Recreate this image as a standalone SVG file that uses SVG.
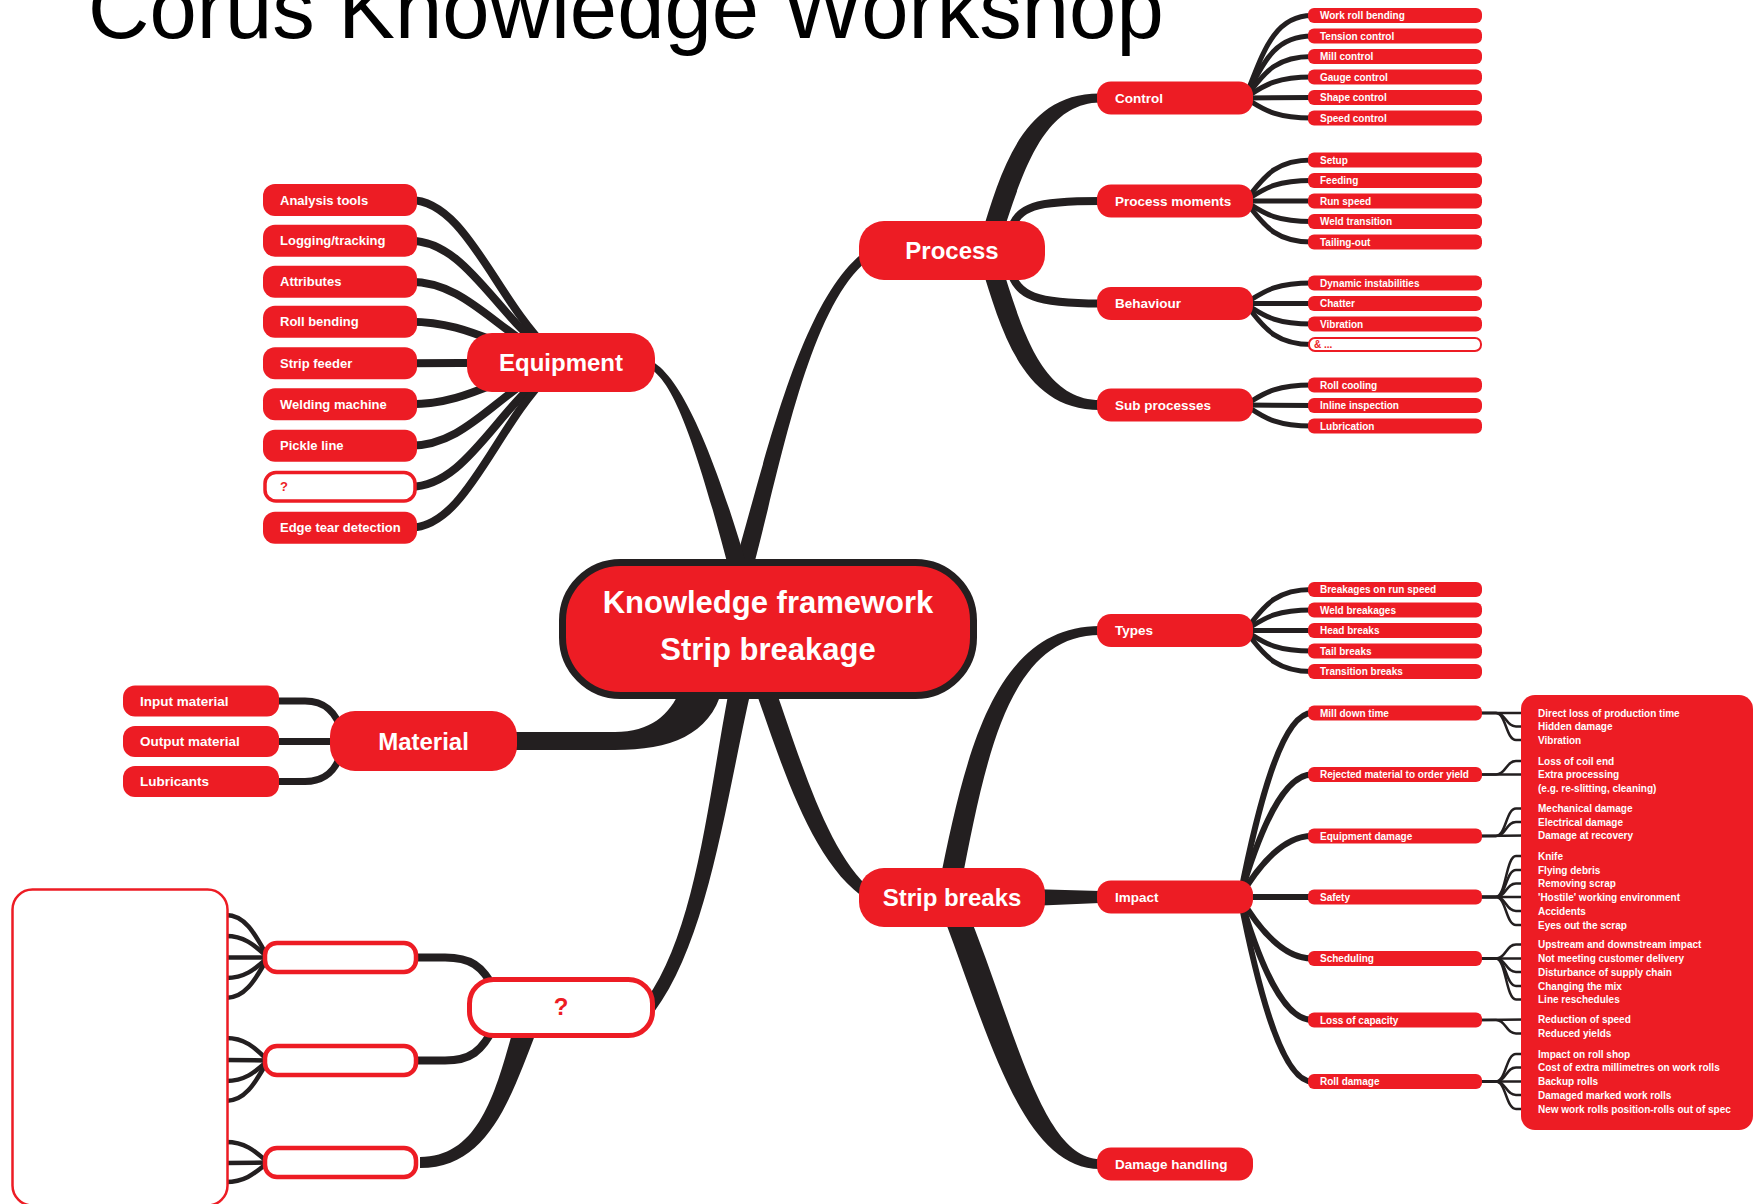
<svg xmlns="http://www.w3.org/2000/svg" width="1753" height="1204" viewBox="0 0 1753 1204">
<style>
  .tp { fill:#231f20; }
  .lk { fill:none; stroke:#231f20; }
  .w5 { stroke-width:5; }
  .w6 { stroke-width:6; }
  .w8 { stroke-width:8; }
  .w45 { stroke-width:4.5; }
  .w25 { stroke-width:2.5; }
  .rn { fill:#ed1c24; }
  .wn { fill:#ffffff; stroke:#ed1c24; }
  text { font-family:"Liberation Sans", Arial, Helvetica, sans-serif; font-weight:bold; fill:#ffffff; }
  .title { font-weight:normal; fill:#000000; font-size:85px; }
  .c0 { font-size:31px; text-anchor:middle; }
  .c1 { font-size:24px; text-anchor:middle; }
  .c2 { font-size:13.5px; }
  .c3 { font-size:10px; }
  .cl { font-size:13px; }
  .cm { font-size:13.5px; }
  .red { fill:#ed1c24; }
</style>

<text class="title" x="88" y="38">Corus Knowledge Workshop</text>

<!-- connectors -->
<g id="connectors">
  <!-- main trunks from the centre -->
  <path class="tp" d="M 731 577 C 764 468, 801 287, 873 246 L 877 254 C 809 293, 780 472, 749 583 Z"/>
  <path class="tp" d="M 640 358 C 671 358, 707 428, 749 573 L 731 577 C 693 432, 669 366, 640 366 Z"/>
  <path class="tp" d="M 505 732 L 615 732 C 650 732, 670 715, 680 690 L 722 690 C 710 735, 670 750, 615 750 L 505 750 Z"/>
  <path class="tp" d="M 729 690 C 708 800, 696 930, 646 1000 L 654 1012 C 708 940, 726 800, 751 690 Z"/>
  <path class="tp" d="M 756 692 C 781 762, 812 866, 868 900 L 872 890 C 828 855, 800 758, 775 688 Z"/>

  <!-- Process branches -->
  <path class="tp" d="M 981 236 C 1001 172, 1022 93, 1100 93.5 L 1100 102.5 C 1038 103, 1019 188, 999 244 Z"/>
  <path class="tp" d="M 981 265 C 1001 329, 1022 410, 1100 410 L 1100 400 C 1038 400, 1019 318, 999 257 Z"/>
  <path class="lk" stroke-width="8" d="M 1010 232 C 1018 206, 1035 201, 1100 201"/>
  <path class="lk" stroke-width="8" d="M 1010 270 C 1018 296, 1035 303.5, 1100 303.5"/>

  <!-- Strip breaks branches -->
  <path class="tp" d="M 939 885 C 965 757, 993 626, 1100 626 L 1100 635 C 1007 635, 985 763, 961 885 Z"/>
  <path class="tp" d="M 1030 889 L 1100 891 L 1100 903 L 1030 906 Z"/>
  <path class="tp" d="M 937 900 C 985 1020, 1018 1169, 1100 1169 L 1100 1159 C 1040 1159, 1013 1018, 963 900 Z"/>

  <!-- Equipment leaves -->
  <g class="lk w8">
    <path d="M 410 200 C 465 200, 495 297, 548 349"/>
    <path d="M 410 240.7 C 465 240.7, 495 313.5, 548 352.3"/>
    <path d="M 410 281.7 C 465 281.7, 495 329.9, 548 355.6"/>
    <path d="M 410 321.7 C 465 321.7, 495 345.9, 548 358.8"/>
    <path d="M 410 363.3 L 548 362.5"/>
    <path d="M 410 404.3 C 465 404.3, 495 378.9, 548 365.4"/>
    <path d="M 410 445.7 C 465 445.7, 495 395.5, 548 368.7"/>
    <path d="M 410 486.7 C 465 486.7, 495 411.9, 548 372"/>
    <path d="M 410 527.7 C 465 527.7, 495 428.3, 548 375.3"/>
  </g>

  <!-- Material leaves -->
  <g class="lk" stroke-width="7">
    <path d="M 272 701 L 305 701 C 325 701, 336 712, 342 732"/>
    <path d="M 272 741.5 L 342 741.5"/>
    <path d="M 272 781.5 L 305 781.5 C 325 781.5, 336 771, 342 751"/>
  </g>

  <!-- Control leaves -->
  <g class="lk w5">
    <path d="M 1245 98 C 1262 56.75, 1272 15.5, 1312 15.5"/>
    <path d="M 1245 98 C 1262 67, 1272 36, 1312 36"/>
    <path d="M 1245 98 C 1262 77.25, 1272 56.5, 1312 56.5"/>
    <path d="M 1245 98 C 1262 87.5, 1272 77, 1312 77"/>
    <path d="M 1245 98 L 1312 97.5"/>
    <path d="M 1245 98 C 1262 108, 1272 118, 1312 118"/>
  </g>
  <!-- Process moments leaves -->
  <g class="lk w5">
    <path d="M 1245 201 C 1262 180.5, 1272 160, 1312 160"/>
    <path d="M 1245 201 C 1262 190.75, 1272 180.5, 1312 180.5"/>
    <path d="M 1245 201 L 1312 201"/>
    <path d="M 1245 201 C 1262 211.25, 1272 221.5, 1312 221.5"/>
    <path d="M 1245 201 C 1262 221.5, 1272 242, 1312 242"/>
  </g>
  <!-- Behaviour leaves -->
  <g class="lk w5">
    <path d="M 1245 303.5 C 1262 293.25, 1272 283, 1312 283"/>
    <path d="M 1245 303.5 L 1312 303.5"/>
    <path d="M 1245 303.5 C 1262 313.75, 1272 324, 1312 324"/>
    <path d="M 1245 303.5 C 1262 324, 1272 344.5, 1312 344.5"/>
  </g>
  <!-- Sub processes leaves -->
  <g class="lk w5">
    <path d="M 1245 405 C 1262 395, 1272 385, 1312 385"/>
    <path d="M 1245 405 L 1312 405.5"/>
    <path d="M 1245 405 C 1262 415.5, 1272 426, 1312 426"/>
  </g>
  <!-- Types leaves -->
  <g class="lk w5">
    <path d="M 1245 630.5 C 1262 610, 1272 589.5, 1312 589.5"/>
    <path d="M 1245 630.5 C 1262 620.25, 1272 610, 1312 610"/>
    <path d="M 1245 630.5 L 1312 630.5"/>
    <path d="M 1245 630.5 C 1262 640.75, 1272 651, 1312 651"/>
    <path d="M 1245 630.5 C 1262 651, 1272 671.5, 1312 671.5"/>
  </g>
  <!-- Impact leaves -->
  <g class="lk w6">
    <path d="M 1240 897 C 1258 805, 1282 713, 1312 713"/>
    <path d="M 1240 897 C 1258 835.75, 1282 774.5, 1312 774.5"/>
    <path d="M 1240 897 C 1258 866.5, 1282 836, 1312 836"/>
    <path d="M 1240 897 L 1312 897"/>
    <path d="M 1240 897 C 1258 927.75, 1282 958.5, 1312 958.5"/>
    <path d="M 1240 897 C 1258 958.5, 1282 1020, 1312 1020"/>
    <path d="M 1240 897 C 1258 989.25, 1282 1081.5, 1312 1081.5"/>
  </g>

  <!-- Impact details into the list panel -->
  <g class="lk w25">
    <path d="M 1480 713 L 1536 713"/>
    <path d="M 1480 713 L 1496 713 C 1506 713, 1506 726.5, 1516 726.5 L 1536 726.5"/>
    <path d="M 1480 713 L 1496 713 C 1506 713, 1506 740, 1516 740 L 1536 740"/>

    <path d="M 1480 774.5 L 1496 774.5 C 1506 774.5, 1506 761, 1516 761 L 1536 761"/>
    <path d="M 1480 774.5 L 1536 774.5"/>

    <path d="M 1480 836 L 1496 836 C 1506 836, 1506 808.5, 1516 808.5 L 1536 808.5"/>
    <path d="M 1480 836 L 1496 836 C 1506 836, 1506 822, 1516 822 L 1536 822"/>
    <path d="M 1480 836 L 1536 835.5"/>

    <path d="M 1480 897 L 1496 897 C 1506 897, 1506 856, 1516 856 L 1536 856"/>
    <path d="M 1480 897 L 1496 897 C 1506 897, 1506 870, 1516 870 L 1536 870"/>
    <path d="M 1480 897 L 1496 897 C 1506 897, 1506 883.5, 1516 883.5 L 1536 883.5"/>
    <path d="M 1480 897 L 1536 897"/>
    <path d="M 1480 897 L 1496 897 C 1506 897, 1506 911, 1516 911 L 1536 911"/>
    <path d="M 1480 897 L 1496 897 C 1506 897, 1506 925, 1516 925 L 1536 925"/>

    <path d="M 1480 958.5 L 1496 958.5 C 1506 958.5, 1506 944.5, 1516 944.5 L 1536 944.5"/>
    <path d="M 1480 958.5 L 1536 958.5"/>
    <path d="M 1480 958.5 L 1496 958.5 C 1506 958.5, 1506 972, 1516 972 L 1536 972"/>
    <path d="M 1480 958.5 L 1496 958.5 C 1506 958.5, 1506 986, 1516 986 L 1536 986"/>
    <path d="M 1480 958.5 L 1496 958.5 C 1506 958.5, 1506 999.5, 1516 999.5 L 1536 999.5"/>

    <path d="M 1480 1020 L 1536 1019.5"/>
    <path d="M 1480 1020 L 1496 1020 C 1506 1020, 1506 1033.5, 1516 1033.5 L 1536 1033.5"/>

    <path d="M 1480 1081.5 L 1496 1081.5 C 1506 1081.5, 1506 1054, 1516 1054 L 1536 1054"/>
    <path d="M 1480 1081.5 L 1496 1081.5 C 1506 1081.5, 1506 1067.5, 1516 1067.5 L 1536 1067.5"/>
    <path d="M 1480 1081.5 L 1536 1081.5"/>
    <path d="M 1480 1081.5 L 1496 1081.5 C 1506 1081.5, 1506 1095, 1516 1095 L 1536 1095"/>
    <path d="M 1480 1081.5 L 1496 1081.5 C 1506 1081.5, 1506 1109, 1516 1109 L 1536 1109"/>
  </g>

  <!-- open branch at lower left -->
  <path class="lk w8" d="M 415 957.5 L 445 957.5 C 470 957.5, 482 965, 495 990"/>
  <path class="lk w8" d="M 415 1060.5 L 445 1060.5 C 470 1060.5, 482 1052, 495 1025"/>
  <path class="tp" d="M 513 1030 C 495 1095, 478 1157, 420 1157 L 420 1168 C 488 1168, 510 1100, 537 1030 Z"/>
  <g class="lk w45">
    <path d="M 226 915 C 246 915, 256 936, 268 957.5"/>
    <path d="M 226 936 C 246 936, 256 947, 268 957.5"/>
    <path d="M 226 957.5 L 268 957.5"/>
    <path d="M 226 978 C 246 978, 256 968, 268 957.5"/>
    <path d="M 226 998 C 246 998, 256 978, 268 957.5"/>

    <path d="M 226 1038 C 246 1038, 256 1049, 268 1060.5"/>
    <path d="M 226 1060 L 268 1060.5"/>
    <path d="M 226 1081 C 246 1081, 256 1071, 268 1060.5"/>
    <path d="M 226 1101 C 246 1101, 256 1081, 268 1060.5"/>

    <path d="M 226 1142 C 246 1142, 256 1152, 268 1162.5"/>
    <path d="M 226 1163 L 268 1162.5"/>
    <path d="M 226 1182 C 246 1182, 256 1172, 268 1162.5"/>
  </g>
</g>

<!-- centre -->
<g id="centre">
  <rect x="562.5" y="562.5" width="411" height="133" rx="58" class="rn" stroke="#231f20" stroke-width="7"/>
  <text class="c0" x="768" y="613">Knowledge framework</text>
  <text class="c0" x="768" y="660">Strip breakage</text>
</g>

<!-- first level -->
<g id="process"><rect x="859" y="221" width="186" height="59" rx="25" class="rn"/><text class="c1" x="952" y="259">Process</text></g>
<g id="equipment"><rect x="467" y="333" width="188" height="59" rx="25" class="rn"/><text class="c1" x="561" y="371">Equipment</text></g>
<g id="material"><rect x="330" y="711" width="187" height="60" rx="25" class="rn"/><text class="c1" x="423.5" y="749.5">Material</text></g>
<g id="unknown"><rect x="469.5" y="979.5" width="183" height="56" rx="24" class="wn" stroke-width="5"/><text class="c1 red" x="561" y="1015">?</text></g>
<g id="strip-breaks"><rect x="859" y="868" width="186" height="59" rx="25" class="rn"/><text class="c1" x="952" y="906">Strip breaks</text></g>

<!-- second level -->
<g id="control"><rect x="1097" y="81.5" width="156" height="33" rx="14" class="rn"/><text class="c2" x="1115" y="102.7">Control</text></g>
<g id="process-moments"><rect x="1097" y="184.5" width="156" height="33" rx="14" class="rn"/><text class="c2" x="1115" y="205.7">Process moments</text></g>
<g id="behaviour"><rect x="1097" y="287" width="156" height="33" rx="14" class="rn"/><text class="c2" x="1115" y="308.2">Behaviour</text></g>
<g id="sub-processes"><rect x="1097" y="388.5" width="156" height="33" rx="14" class="rn"/><text class="c2" x="1115" y="409.7">Sub processes</text></g>
<g id="types"><rect x="1097" y="614" width="156" height="33" rx="14" class="rn"/><text class="c2" x="1115" y="635.2">Types</text></g>
<g id="impact"><rect x="1097" y="880.5" width="156" height="33" rx="14" class="rn"/><text class="c2" x="1115" y="901.7">Impact</text></g>
<g id="damage-handling"><rect x="1097" y="1147.5" width="156" height="33" rx="14" class="rn"/><text class="c2" x="1115" y="1168.7">Damage handling</text></g>

<!-- Control leaves -->
<g id="control-leaves">
  <rect x="1308" y="8" width="174" height="15" rx="6" class="rn"/><text class="c3" x="1320" y="19">Work roll bending</text>
  <rect x="1308" y="28.5" width="174" height="15" rx="6" class="rn"/><text class="c3" x="1320" y="39.5">Tension control</text>
  <rect x="1308" y="49" width="174" height="15" rx="6" class="rn"/><text class="c3" x="1320" y="60">Mill control</text>
  <rect x="1308" y="69.5" width="174" height="15" rx="6" class="rn"/><text class="c3" x="1320" y="80.5">Gauge control</text>
  <rect x="1308" y="90" width="174" height="15" rx="6" class="rn"/><text class="c3" x="1320" y="101">Shape control</text>
  <rect x="1308" y="110.5" width="174" height="15" rx="6" class="rn"/><text class="c3" x="1320" y="121.5">Speed control</text>
</g>
<g id="process-moment-leaves">
  <rect x="1308" y="152.5" width="174" height="15" rx="6" class="rn"/><text class="c3" x="1320" y="163.5">Setup</text>
  <rect x="1308" y="173" width="174" height="15" rx="6" class="rn"/><text class="c3" x="1320" y="184">Feeding</text>
  <rect x="1308" y="193.5" width="174" height="15" rx="6" class="rn"/><text class="c3" x="1320" y="204.5">Run speed</text>
  <rect x="1308" y="214" width="174" height="15" rx="6" class="rn"/><text class="c3" x="1320" y="225">Weld transition</text>
  <rect x="1308" y="234.5" width="174" height="15" rx="6" class="rn"/><text class="c3" x="1320" y="245.5">Tailing-out</text>
</g>
<g id="behaviour-leaves">
  <rect x="1308" y="275.5" width="174" height="15" rx="6" class="rn"/><text class="c3" x="1320" y="286.5">Dynamic instabilities</text>
  <rect x="1308" y="296" width="174" height="15" rx="6" class="rn"/><text class="c3" x="1320" y="307">Chatter</text>
  <rect x="1308" y="316.5" width="174" height="15" rx="6" class="rn"/><text class="c3" x="1320" y="327.5">Vibration</text>
  <rect x="1309" y="338" width="172" height="13" rx="6" class="wn" stroke-width="2"/><text class="c3 red" x="1314" y="348">&amp; ...</text>
</g>
<g id="sub-process-leaves">
  <rect x="1308" y="377.5" width="174" height="15" rx="6" class="rn"/><text class="c3" x="1320" y="388.5">Roll cooling</text>
  <rect x="1308" y="398" width="174" height="15" rx="6" class="rn"/><text class="c3" x="1320" y="409">Inline inspection</text>
  <rect x="1308" y="418.5" width="174" height="15" rx="6" class="rn"/><text class="c3" x="1320" y="429.5">Lubrication</text>
</g>
<g id="type-leaves">
  <rect x="1308" y="582" width="174" height="15" rx="6" class="rn"/><text class="c3" x="1320" y="593">Breakages on run speed</text>
  <rect x="1308" y="602.5" width="174" height="15" rx="6" class="rn"/><text class="c3" x="1320" y="613.5">Weld breakages</text>
  <rect x="1308" y="623" width="174" height="15" rx="6" class="rn"/><text class="c3" x="1320" y="634">Head breaks</text>
  <rect x="1308" y="643.5" width="174" height="15" rx="6" class="rn"/><text class="c3" x="1320" y="654.5">Tail breaks</text>
  <rect x="1308" y="664" width="174" height="15" rx="6" class="rn"/><text class="c3" x="1320" y="675">Transition breaks</text>
</g>
<g id="impact-leaves">
  <rect x="1308" y="705.5" width="174" height="15" rx="6" class="rn"/><text class="c3" x="1320" y="716.5">Mill down time</text>
  <rect x="1308" y="767" width="174" height="15" rx="6" class="rn"/><text class="c3" x="1320" y="778">Rejected material to order yield</text>
  <rect x="1308" y="828.5" width="174" height="15" rx="6" class="rn"/><text class="c3" x="1320" y="839.5">Equipment damage</text>
  <rect x="1308" y="889.5" width="174" height="15" rx="6" class="rn"/><text class="c3" x="1320" y="900.5">Safety</text>
  <rect x="1308" y="951" width="174" height="15" rx="6" class="rn"/><text class="c3" x="1320" y="962">Scheduling</text>
  <rect x="1308" y="1012.5" width="174" height="15" rx="6" class="rn"/><text class="c3" x="1320" y="1023.5">Loss of capacity</text>
  <rect x="1308" y="1074" width="174" height="15" rx="6" class="rn"/><text class="c3" x="1320" y="1085">Roll damage</text>
</g>

<!-- impact details panel -->
<g id="impact-details">
  <rect x="1521" y="695" width="232" height="435" rx="14" class="rn"/>
  <text class="c3" x="1538" y="716.5">Direct loss of production time</text>
  <text class="c3" x="1538" y="730">Hidden damage</text>
  <text class="c3" x="1538" y="743.5">Vibration</text>
  <text class="c3" x="1538" y="764.5">Loss of coil end</text>
  <text class="c3" x="1538" y="778">Extra processing</text>
  <text class="c3" x="1538" y="791.5">(e.g. re-slitting, cleaning)</text>
  <text class="c3" x="1538" y="812">Mechanical damage</text>
  <text class="c3" x="1538" y="825.5">Electrical damage</text>
  <text class="c3" x="1538" y="839">Damage at recovery</text>
  <text class="c3" x="1538" y="859.5">Knife</text>
  <text class="c3" x="1538" y="873.5">Flying debris</text>
  <text class="c3" x="1538" y="887">Removing scrap</text>
  <text class="c3" x="1538" y="900.5">'Hostile' working environment</text>
  <text class="c3" x="1538" y="914.5">Accidents</text>
  <text class="c3" x="1538" y="928.5">Eyes out the scrap</text>
  <text class="c3" x="1538" y="948">Upstream and downstream impact</text>
  <text class="c3" x="1538" y="962">Not meeting customer delivery</text>
  <text class="c3" x="1538" y="975.5">Disturbance of supply chain</text>
  <text class="c3" x="1538" y="989.5">Changing the mix</text>
  <text class="c3" x="1538" y="1003">Line reschedules</text>
  <text class="c3" x="1538" y="1023">Reduction of speed</text>
  <text class="c3" x="1538" y="1037">Reduced yields</text>
  <text class="c3" x="1538" y="1057.5">Impact on roll shop</text>
  <text class="c3" x="1538" y="1071">Cost of extra millimetres on work rolls</text>
  <text class="c3" x="1538" y="1085">Backup rolls</text>
  <text class="c3" x="1538" y="1098.5">Damaged marked work rolls</text>
  <text class="c3" x="1538" y="1112.5">New work rolls position-rolls out of spec</text>
</g>

<!-- Equipment leaves -->
<g id="equipment-leaves">
  <rect x="263" y="184" width="154" height="32" rx="12" class="rn"/><text class="cl" x="280" y="204.6">Analysis tools</text>
  <rect x="263" y="224.7" width="154" height="32" rx="12" class="rn"/><text class="cl" x="280" y="245.3">Logging/tracking</text>
  <rect x="263" y="265.7" width="154" height="32" rx="12" class="rn"/><text class="cl" x="280" y="286.3">Attributes</text>
  <rect x="263" y="305.7" width="154" height="32" rx="12" class="rn"/><text class="cl" x="280" y="326.3">Roll bending</text>
  <rect x="263" y="347.3" width="154" height="32" rx="12" class="rn"/><text class="cl" x="280" y="367.9">Strip feeder</text>
  <rect x="263" y="388.3" width="154" height="32" rx="12" class="rn"/><text class="cl" x="280" y="408.9">Welding machine</text>
  <rect x="263" y="429.7" width="154" height="32" rx="12" class="rn"/><text class="cl" x="280" y="450.3">Pickle line</text>
  <rect x="265" y="472.5" width="150" height="28.5" rx="11" class="wn" stroke-width="3.5"/><text class="cl red" x="280" y="491.3">?</text>
  <rect x="263" y="511.7" width="154" height="32" rx="12" class="rn"/><text class="cl" x="280" y="532.3">Edge tear detection</text>
</g>

<!-- Material leaves -->
<g id="material-leaves">
  <rect x="123" y="685.5" width="156" height="31" rx="12" class="rn"/><text class="cm" x="140" y="705.7">Input material</text>
  <rect x="123" y="726" width="156" height="31" rx="12" class="rn"/><text class="cm" x="140" y="746.2">Output material</text>
  <rect x="123" y="766" width="156" height="31" rx="12" class="rn"/><text class="cm" x="140" y="786.2">Lubricants</text>
</g>

<!-- open branch at lower left -->
<g id="open-branch">
  <rect x="265" y="943" width="151" height="29" rx="12" class="wn" stroke-width="4.5"/>
  <rect x="265" y="1046" width="151" height="29" rx="12" class="wn" stroke-width="4.5"/>
  <rect x="265" y="1148" width="151" height="29" rx="12" class="wn" stroke-width="4.5"/>
  <rect x="12.5" y="889.5" width="215" height="316" rx="20" class="wn" stroke-width="2.5"/>
</g>
</svg>
